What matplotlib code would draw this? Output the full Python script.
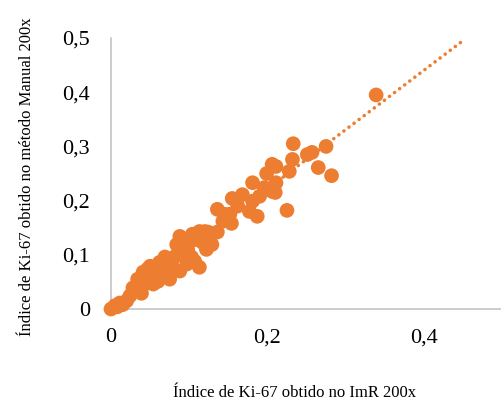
import numpy as np
import matplotlib
matplotlib.use('Agg')
import matplotlib.pyplot as plt

# Ki-67 index: ImR 200x (x) vs manual method 200x (y)
imr = [0.000, 0.005, 0.011, 0.020, 0.024, 0.028, 0.034, 0.039, 0.041, 0.047,
       0.050, 0.054, 0.059, 0.062, 0.066, 0.060, 0.071, 0.075, 0.082, 0.088,
       0.084, 0.088, 0.094, 0.097, 0.092, 0.101, 0.104, 0.113, 0.117, 0.124,
       0.129, 0.113, 0.120, 0.136, 0.136, 0.143, 0.152, 0.154, 0.155, 0.168,
       0.177, 0.181, 0.187, 0.181, 0.196, 0.206, 0.210, 0.199, 0.206, 0.211,
       0.228, 0.232, 0.225, 0.233, 0.251, 0.257, 0.265, 0.275, 0.282, 0.339,
       0.211, 0.069, 0.075, 0.103, 0.107, 0.043, 0.050, 0.122, 0.008, 0.015,
       0.065, 0.078, 0.056, 0.098, 0.110, 0.090, 0.145, 0.162, 0.190]
manual = [0.000, 0.006, 0.011, 0.015, 0.024, 0.039, 0.055, 0.029, 0.068, 0.074,
          0.079, 0.046, 0.077, 0.086, 0.064, 0.051, 0.068, 0.055, 0.097, 0.070,
          0.119, 0.134, 0.105, 0.083, 0.116, 0.125, 0.138, 0.143, 0.123, 0.142,
          0.119, 0.077, 0.143, 0.142, 0.184, 0.162, 0.175, 0.158, 0.204, 0.211,
          0.180, 0.199, 0.171, 0.233, 0.224, 0.217, 0.215, 0.250, 0.267, 0.263,
          0.254, 0.276, 0.182, 0.305, 0.285, 0.289, 0.261, 0.300, 0.246, 0.395,
          0.233, 0.096, 0.088, 0.096, 0.088, 0.046, 0.061, 0.110, 0.004, 0.008,
          0.072, 0.080, 0.065, 0.110, 0.128, 0.100, 0.175, 0.190, 0.208]

tick_vals = [0, 0.1, 0.2, 0.3, 0.4, 0.5]
tick_labels = ['0', '0,1', '0,2', '0,3', '0,4', '0,5']

orange = '#ED7D31'
grey = '#BFBFBF'

fig = plt.figure(figsize=(5.02, 4.01), dpi=100)
ax = fig.add_axes([0.2211, 0.2294, 0.779, 0.6758])

# linear trendline (least squares), extended forward like Excel's forecast
coef = np.polyfit(imr, manual, 1)
xt = np.array([0.0, 0.45])
ax.plot(xt, np.polyval(coef, xt), color=orange, linewidth=2.6,
        linestyle=(0, (0.01, 1.75)), dash_capstyle='round', zorder=2)

ax.scatter(imr, manual, s=112, color=orange, edgecolors='none',
           zorder=3, clip_on=False)

ax.set_xlim(0, 0.5)
ax.set_ylim(0, 0.5)
ax.set_xticks(tick_vals[::2])
ax.set_xticklabels(tick_labels[::2])
ax.set_yticks(tick_vals)
ax.set_yticklabels(tick_labels)

for side in ['top', 'right']:
    ax.spines[side].set_visible(False)
for side in ['left', 'bottom']:
    ax.spines[side].set_color(grey)
    ax.spines[side].set_linewidth(1.1)

ax.tick_params(length=0, labelsize=16)
ax.tick_params(axis='x', pad=14)
ax.tick_params(axis='y', pad=15)
for lab in ax.get_xticklabels() + ax.get_yticklabels():
    lab.set_fontfamily('Liberation Serif')

fig.text(295 / 502, 1 - 393 / 401, 'Índice de Ki-67 obtido no ImR 200x',
         family='Liberation Serif', fontsize=12, ha='center', va='center')
fig.text(27 / 502, 1 - 177 / 401, 'Índice de Ki-67 obtido no método Manual 200x',
         family='Liberation Serif', fontsize=12, ha='center', va='center',
         rotation=90)

fig.savefig('out.png', dpi=100)
